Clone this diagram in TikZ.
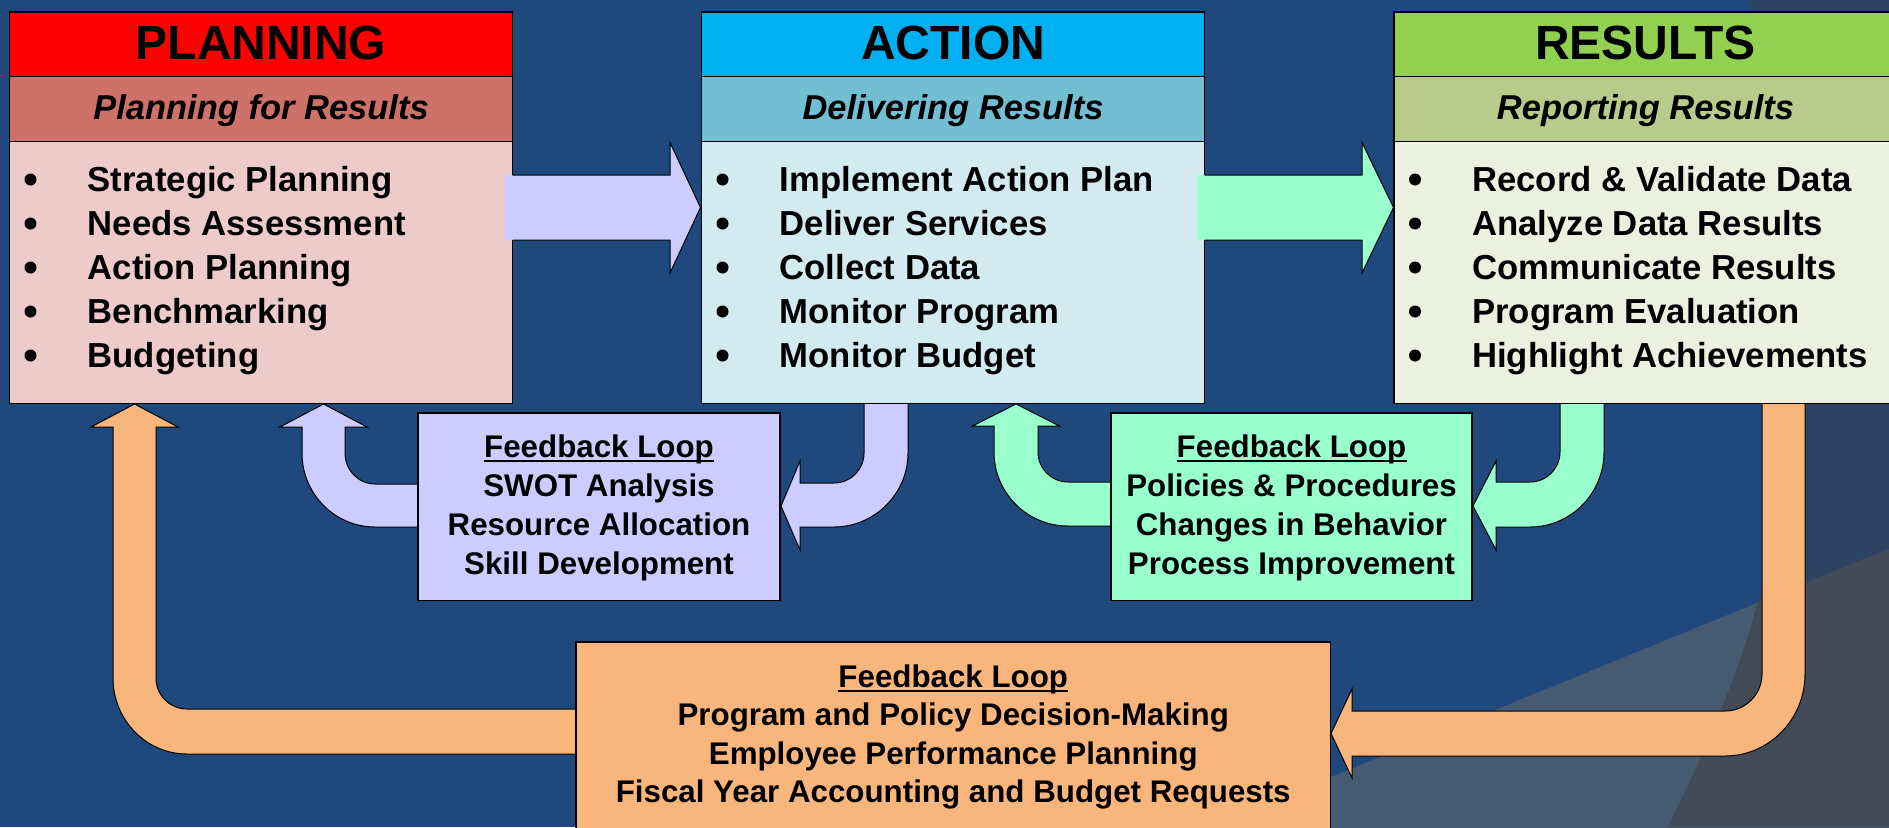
\documentclass[tikz,border=0pt]{standalone}
\usepackage{fontspec}
\setmainfont{Liberation Sans}

\definecolor{bgblue}{HTML}{1F497D}
\definecolor{bgslate}{HTML}{2E4462}
\definecolor{bglight}{HTML}{465A71}
\definecolor{bgdark}{HTML}{424B58}
\definecolor{planhead}{HTML}{FF0000}
\definecolor{plansub}{HTML}{CD7169}
\definecolor{planbody}{HTML}{EDCBC9}
\definecolor{acthead}{HTML}{00B0F0}
\definecolor{actsub}{HTML}{72BED3}
\definecolor{actbody}{HTML}{D3EAF0}
\definecolor{reshead}{HTML}{92D050}
\definecolor{ressub}{HTML}{B8CB8A}
\definecolor{resbody}{HTML}{EBF0DF}
\definecolor{lav}{HTML}{CCCCFF}
\definecolor{mint}{HTML}{99FFCC}
\definecolor{peach}{HTML}{F8B57C}

\tikzset{
  panel/.style={draw=black, line width=1.2pt, inner sep=0pt, outer sep=0pt, anchor=north west},
  title/.style={anchor=base, inner sep=0pt, font=\fontsize{48}{56}\selectfont\bfseries},
  subtitle/.style={anchor=base, inner sep=0pt, font=\fontsize{34.5}{40}\selectfont\bfseries\itshape},
  item/.style={anchor=base west, inner sep=0pt, font=\fontsize{34.7}{40}\selectfont\bfseries},
  bulletdot/.style={circle, fill=black, inner sep=0pt, minimum size=12pt},
  fbtext/.style={anchor=base, inner sep=0pt, font=\fontsize{31.3}{38}\selectfont\bfseries},
  blockarrow/.style={draw=black, line width=1pt, line join=miter},
  underbar/.style={line width=2.2pt},
}

% one stage column: name, left x, three fills, title, subtitle, bullet items
\newcommand{\stagecolumn}[8]{%
  \node[panel, fill=#3, minimum width=503pt, minimum height=64.5pt] (#1-head) at (#2,12) {};
  \node[panel, fill=#4, minimum width=503pt, minimum height=65pt] (#1-sub) at (#2,76.5) {};
  \node[panel, fill=#5, minimum width=503pt, minimum height=262pt] (#1-body) at (#2,141.5) {};
  \pgfmathsetmacro{\colmid}{#2+251.5}
  \pgfmathsetmacro{\colbul}{#2+21}
  \pgfmathsetmacro{\coltxt}{#2+78}
  \node[title] (#1-title) at (\colmid,59.3) {#6};
  \node[subtitle] (#1-subtitle) at (\colmid,119.3) {#7};
  \foreach \entry [count=\k] in {#8} {
    \node[bulletdot] (#1-dot\k) at (\colbul,{179.5+44*(\k-1)}) {};
    \node[item] (#1-item\k) at (\coltxt,{191+44*(\k-1)}) {\entry};
  }
}

\begin{document}
\begin{tikzpicture}[x=1pt,y=-1pt]
\useasboundingbox (0,0) rectangle (1889,827);
\clip (0,0) rectangle (1889,827);

% backdrop
\fill[bgblue] (0,0) rectangle (1889,827);
\fill[bgslate] (1750,0) .. controls (1775,150) and (1785,350) .. (1775,500)
  .. controls (1768,600) and (1730,700) .. (1668,827) -- (1889,827) -- (1889,0) -- cycle;
\fill[bglight] (1100,871.4) -- (1889,549) -- (1889,900) -- (1100,900) -- cycle;
\begin{scope}
  \clip (1750,0) .. controls (1775,150) and (1785,350) .. (1775,500)
    .. controls (1768,600) and (1730,700) .. (1668,827) -- (1889,827) -- (1889,0) -- cycle;
  \fill[bgdark] (1100,871.4) -- (1889,549) -- (1889,900) -- (1100,900) -- cycle;
\end{scope}

% stage columns
\stagecolumn{plan}{9.5}{planhead}{plansub}{planbody}{PLANNING}{Planning for Results}%
  {Strategic Planning,Needs Assessment,Action Planning,Benchmarking,Budgeting}
\stagecolumn{act}{701.5}{acthead}{actsub}{actbody}{ACTION}{Delivering Results}%
  {Implement Action Plan,Deliver Services,Collect Data,Monitor Program,Monitor Budget}
\stagecolumn{res}{1394}{reshead}{ressub}{resbody}{RESULTS}{Reporting Results}%
  {Record \& Validate Data,Analyze Data Results,Communicate Results,Program Evaluation,Highlight Achievements}

% forward arrows between stages
\fill[lav] (505,175) -- (670,175) -- (670,142.5) -- (700.5,207.5) -- (670,273) -- (670,240) -- (505,240) -- cycle;
\draw[blockarrow] (512.5,175) -- (670,175) -- (670,142.5) -- (700.5,207.5) -- (670,273) -- (670,240) -- (512.5,240);
\fill[mint] (1197,175) -- (1362,175) -- (1362,142.5) -- (1393.5,207.5) -- (1362,273) -- (1362,240) -- (1197,240) -- cycle;
\draw[blockarrow] (1204.5,175) -- (1362,175) -- (1362,142.5) -- (1393.5,207.5) -- (1362,273) -- (1362,240) -- (1204.5,240);

% feedback loop arrows
\filldraw[blockarrow, fill=lav] (418,484) -- (375,484) .. controls (358.4,484) and (345,470.1) .. (345,453)
  -- (345,427) -- (367,427) -- (323.5,404) -- (280,427) -- (302,427) -- (302,453)
  .. controls (302,493.9) and (334.7,527) .. (375,527) -- (418,527);
\filldraw[blockarrow, fill=lav] (864,404) -- (864,453) .. controls (864,469.6) and (850.6,483) .. (834,483)
  -- (800,483) -- (800,461) -- (781,506) -- (800,550) -- (800,527) -- (834,527)
  .. controls (874.3,527) and (908,493.9) .. (908,453) -- (908,404);
\filldraw[blockarrow, fill=mint] (1111,482) -- (1068,482) .. controls (1051.4,482) and (1038,468.6) .. (1038,452)
  -- (1038,426) -- (1059.5,426) -- (1016,404) -- (972.5,426) -- (994,426) -- (994,452)
  .. controls (994,492.9) and (1027.1,526) .. (1068,526) -- (1111,526);
\filldraw[blockarrow, fill=mint] (1560,404) -- (1560,452) .. controls (1560,468.6) and (1546.6,482) .. (1530,482)
  -- (1496,482) -- (1496,461) -- (1473,506) -- (1496,550) -- (1496,527) -- (1530,527)
  .. controls (1570.9,527) and (1604,493.4) .. (1604,452) -- (1604,404);
\filldraw[blockarrow, fill=peach] (576,709) -- (187,709) .. controls (169.9,709) and (156,695.1) .. (156,678)
  -- (156,427) -- (178,427) -- (134.5,404) -- (91,427) -- (113,427) -- (113,678)
  .. controls (113,720) and (146.1,754) .. (187,754) -- (576,754);
\filldraw[blockarrow, fill=peach] (1762,404) -- (1762,674) .. controls (1762,694.4) and (1745.4,711) .. (1725,711)
  -- (1352,711) -- (1352,689) -- (1331,733.5) -- (1352,778) -- (1352,756) -- (1725,756)
  .. controls (1769.2,756) and (1805,719.3) .. (1805,674) -- (1805,404);

% feedback boxes
\node[panel, fill=lav, minimum width=362pt, minimum height=187.5pt] (fb1) at (418,413) {};
\node[panel, fill=mint, minimum width=361pt, minimum height=187.5pt] (fb2) at (1111,413) {};
\node[panel, fill=peach, minimum width=754.5pt, minimum height=220pt] (fb3) at (576,642) {};

\node[fbtext] (fb1-l0) at (599,457) {Feedback Loop};
\node[fbtext] (fb1-l1) at (599,496) {SWOT Analysis};
\node[fbtext] (fb1-l2) at (599,535) {Resource Allocation};
\node[fbtext] (fb1-l3) at (599,574) {Skill Development};

\node[fbtext] (fb2-l0) at (1291.5,457) {Feedback Loop};
\node[fbtext] (fb2-l1) at (1291.5,496) {Policies \& Procedures};
\node[fbtext] (fb2-l2) at (1291.5,535) {Changes in Behavior};
\node[fbtext] (fb2-l3) at (1291.5,574) {Process Improvement};

\node[fbtext] (fb3-l0) at (953.25,687) {Feedback Loop};
\node[fbtext] (fb3-l1) at (953.25,725.5) {Program and Policy Decision-Making};
\node[fbtext] (fb3-l2) at (953.25,764) {Employee Performance Planning};
\node[fbtext] (fb3-l3) at (953.25,802.5) {Fiscal Year Accounting and Budget Requests};

\foreach \n in {fb1-l0,fb2-l0,fb3-l0}
  \draw[underbar] ([yshift=-4pt]\n.base west) -- ([yshift=-4pt]\n.base east);

\end{tikzpicture}
\end{document}
